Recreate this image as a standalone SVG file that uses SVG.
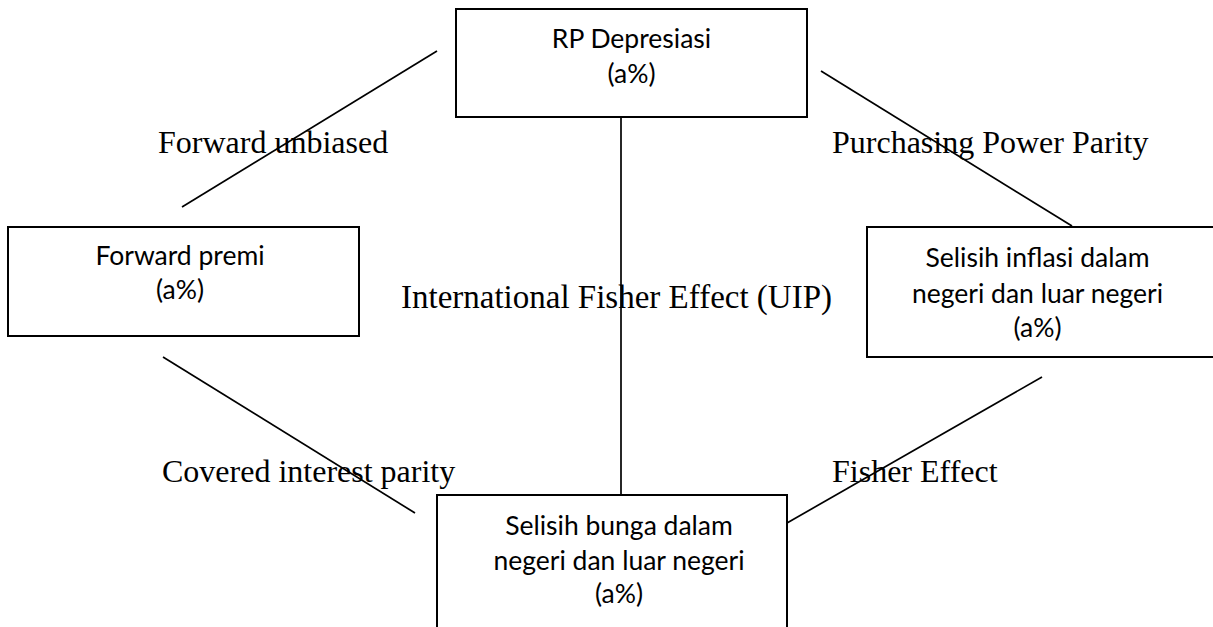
<svg xmlns="http://www.w3.org/2000/svg" width="1213" height="627" viewBox="0 0 1213 627">
<style>
.box{fill:#fff;stroke:#000;stroke-width:2}
.c{stroke:#000;stroke-width:1.7;fill:none}
.t{font-family:Lato,"Open Sans","Liberation Sans",sans-serif;font-size:26.5px;fill:#000;text-anchor:middle}
.l{font-family:"Liberation Serif","Times New Roman",serif;font-size:32px;fill:#000}
</style>
<rect width="1213" height="627" fill="#fff"/>
<g id="n-rp">
<rect class="box" x="456" y="9" width="351" height="108"/>
<text class="t" x="631.5" y="48">RP Depresiasi</text>
<text class="t" x="631.5" y="83">(a%)</text>
</g>
<g id="n-forward">
<rect class="box" x="8" y="227" width="351" height="109"/>
<text class="t" x="180" y="265">Forward premi</text>
<text class="t" x="180" y="299">(a%)</text>
</g>
<g id="n-inflasi">
<rect class="box" x="867" y="227" width="360" height="130"/>
<text class="t" x="1037.5" y="267">Selisih inflasi dalam</text>
<text class="t" x="1037.5" y="303">negeri dan luar negeri</text>
<text class="t" x="1037.5" y="337">(a%)</text>
</g>
<g id="n-bunga">
<rect class="box" x="437" y="495" width="350" height="200"/>
<text class="t" x="619" y="535">Selisih bunga dalam</text>
<text class="t" x="619" y="570">negeri dan luar negeri</text>
<text class="t" x="619" y="603">(a%)</text>
</g>
<g id="connectors">
<line class="c" x1="437" y1="51" x2="182" y2="207"/>
<line class="c" x1="821" y1="71" x2="1072" y2="226"/>
<line class="c" x1="621" y1="117" x2="621" y2="495"/>
<line class="c" x1="163" y1="357" x2="415" y2="513"/>
<line class="c" x1="1042" y1="377" x2="787" y2="523"/>
</g>
<g id="labels">
<text class="l" x="158" y="153">Forward unbiased</text>
<text class="l" x="832" y="153">Purchasing Power Parity</text>
<text class="l" x="401" y="308" style="font-size:33px">International Fisher Effect (UIP)</text>
<text class="l" x="162" y="482">Covered interest parity</text>
<text class="l" x="832" y="482">Fisher Effect</text>
</g>
</svg>
